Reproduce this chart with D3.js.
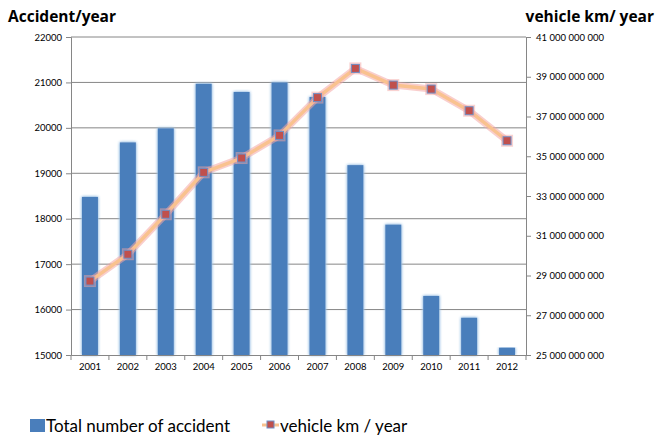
<!DOCTYPE html>
<html><head><meta charset="utf-8">
<script src="https://cdn.jsdelivr.net/npm/d3@7"></script>
<style>body{margin:0;background:#fff}svg{display:block;font-family:Lato,"Open Sans",sans-serif}</style>
</head><body><svg id="c" width="657" height="439"></svg>
<script>
const years = ["2001","2002","2003","2004","2005","2006","2007","2008","2009","2010","2011","2012"];
const accidents = [18480,19680,19990,20970,20790,21000,20680,19180,17870,16300,15820,15160];
const vehicleKm = [28.72e9,30.07e9,32.08e9,34.19e9,34.91e9,36.05e9,37.95e9,39.42e9,38.58e9,38.38e9,37.29e9,35.78e9];
const leftTicks = [15000,16000,17000,18000,19000,20000,21000,22000];
const rightTicks = [25e9,27e9,29e9,31e9,33e9,35e9,37e9,39e9,41e9];

const svg = d3.select("#c");
const L = 71, R = 526, T = 37, B = 355;
const x = d3.scaleBand().domain(years).range([L, R]).paddingInner(0).paddingOuter(0);
const yL = d3.scaleLinear().domain([15000, 22000]).range([B, T]);
const yR = d3.scaleLinear().domain([25e9, 41e9]).range([B, T]);
const grid = "#868686";

const defs = svg.append("defs");
const f1 = defs.append("filter").attr("id","glowB").attr("x","-50%").attr("y","-10%").attr("width","200%").attr("height","120%");
f1.append("feGaussianBlur").attr("in","SourceAlpha").attr("stdDeviation",1.6).attr("result","b");
f1.append("feFlood").attr("flood-color","#9dc3e6").attr("result","c");
f1.append("feComposite").attr("in","c").attr("in2","b").attr("operator","in").attr("result","g");
const m1 = f1.append("feMerge"); m1.append("feMergeNode").attr("in","g"); m1.append("feMergeNode").attr("in","g"); m1.append("feMergeNode").attr("in","SourceGraphic");

// gridlines
svg.append("g").selectAll("line").data(leftTicks.slice(1)).join("line")
  .attr("x1", L).attr("x2", R).attr("y1", d => yL(d)).attr("y2", d => yL(d))
  .attr("stroke", grid).attr("stroke-width", 1);

// bars
const bw = 16;
svg.append("g").selectAll("rect").data(years).join("rect")
  .attr("x", (d) => x(d) + x.bandwidth()/2 - bw/2)
  .attr("width", bw)
  .attr("y", (d,i) => yL(accidents[i]))
  .attr("height", (d,i) => B - yL(accidents[i]))
  .attr("fill", "#4a7ebb").attr("filter","url(#glowB)");

// axes
const axL = svg.append("g").attr("transform", `translate(${L},0)`)
  .call(d3.axisLeft(yL).tickValues(leftTicks).tickSize(5).tickFormat(d3.format("d")));
const axR = svg.append("g").attr("transform", `translate(${R},0)`)
  .call(d3.axisRight(yR).tickValues(rightTicks).tickSize(5).tickFormat(d => d3.format(",")(d).replace(/,/g, " ")));
const axB = svg.append("g").attr("transform", `translate(0,${B})`)
  .call(d3.axisBottom(x).tickSize(0));
[axL, axR, axB].forEach(a => {
  a.selectAll(".domain").attr("stroke", grid);
  a.selectAll(".tick line").attr("stroke", grid);
  a.selectAll("text").attr("fill", "#000").style("font-size", "9.5px").style("font-family", "Lato, 'Open Sans', sans-serif");
});
axL.selectAll("text").attr("x", -9);
axR.selectAll("text").attr("x", 10);
axB.selectAll("text").attr("dy", "0.71em").attr("y", 8);
// category separators on x axis
svg.append("g").selectAll("line").data(years.concat(["end"])).join("line")
  .attr("x1", (d,i) => L + i*x.bandwidth()).attr("x2", (d,i) => L + i*x.bandwidth())
  .attr("y1", B).attr("y2", B + 5).attr("stroke", grid);

// line
const lineGen = d3.line().x((d,i) => x(years[i]) + x.bandwidth()/2).y(d => yR(d));
svg.append("path").datum(vehicleKm).attr("d", lineGen).attr("fill","none")
  .attr("stroke","#f4a6a4").attr("stroke-width",7).attr("stroke-opacity",0.55).attr("stroke-linejoin","round");
svg.append("path").datum(vehicleKm).attr("d", lineGen).attr("fill","none")
  .attr("stroke","#f9c28f").attr("stroke-width",3.5).attr("stroke-linejoin","round");
const mk = 8;
svg.append("g").selectAll("rect.h").data(vehicleKm).join("rect")
  .attr("x", (d,i) => x(years[i]) + x.bandwidth()/2 - mk/2 - 2).attr("y", d => yR(d) - mk/2 - 2)
  .attr("width", mk + 4).attr("height", mk + 4).attr("fill", "#f4a6a4").attr("opacity", 0.5);
svg.append("g").selectAll("rect.m").data(vehicleKm).join("rect")
  .attr("x", (d,i) => x(years[i]) + x.bandwidth()/2 - mk/2).attr("y", d => yR(d) - mk/2)
  .attr("width", mk).attr("height", mk).attr("fill", "#c0504d").attr("stroke", "#6f8fc6").attr("stroke-width", 1);

// titles
svg.append("text").attr("x", 8).attr("y", 22).text("Accident/year")
  .style("font-weight", "bold").style("font-size", "15.5px").style("font-family","'Open Sans',sans-serif").attr("fill","#000");
svg.append("text").attr("x", 654).attr("y", 22).attr("text-anchor","end").text("vehicle km/ year")
  .style("font-weight", "bold").style("font-size", "15.5px").style("font-family","'Open Sans',sans-serif").attr("fill","#000");

// legend
const lg = svg.append("g").style("font-size","17px").style("font-family","Lato,'Open Sans',sans-serif");
lg.append("rect").attr("x", 30).attr("y", 419).attr("width", 15).attr("height", 13).attr("fill","#4a7ebb");
lg.append("text").attr("x", 46).attr("y", 432).text("Total number of accident").attr("fill","#000");
lg.append("line").attr("x1", 262).attr("x2", 279).attr("y1", 425).attr("y2", 425).attr("stroke","#f9c28f").attr("stroke-width",3);
lg.append("rect").attr("x", 267).attr("y", 421).attr("width", 7).attr("height", 7).attr("fill","#c0504d").attr("stroke","#6f8fc6");
lg.append("text").attr("x", 280).attr("y", 432).text("vehicle km / year").attr("fill","#000");
</script></body></html>
